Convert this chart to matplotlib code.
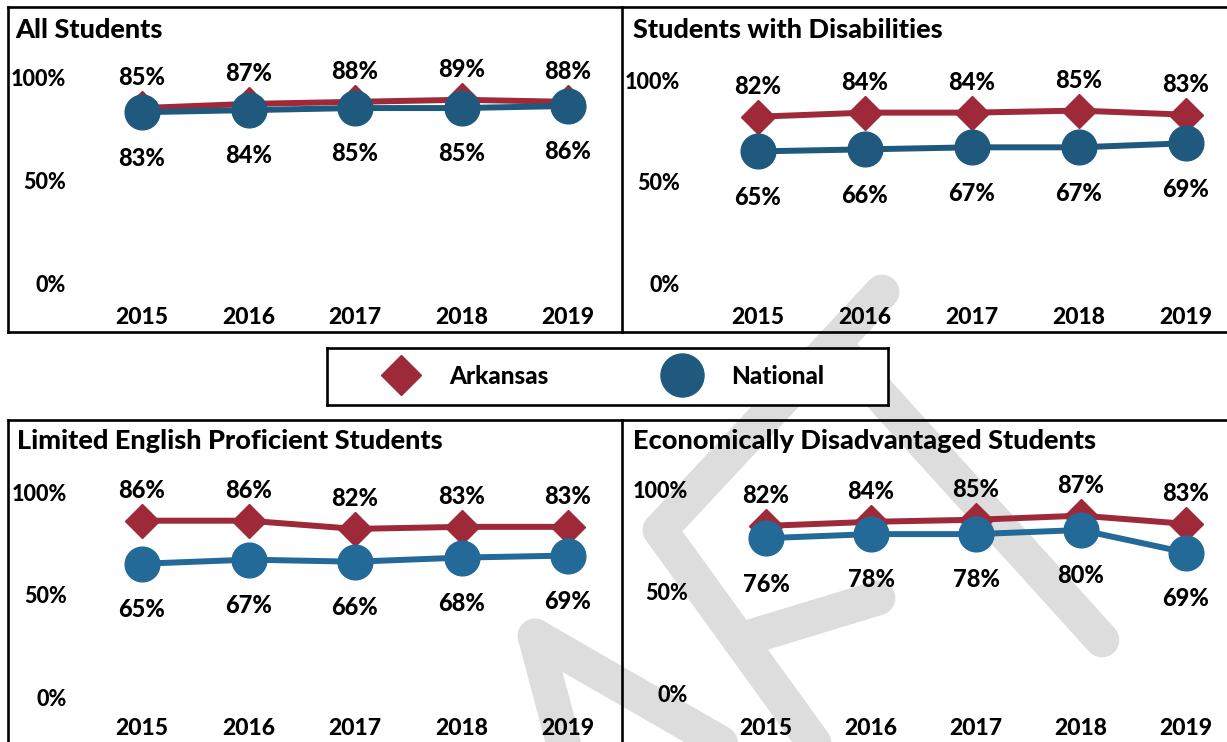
import matplotlib
matplotlib.use("Agg")
import matplotlib.pyplot as plt
from matplotlib.lines import Line2D

plt.rcParams["font.family"] = ["Lato", "DejaVu Sans"]
plt.rcParams["font.weight"] = "black"

# ---- data ----
years = [2015, 2016, 2017, 2018, 2019]
titles = ["All Students",
          "Students with Disabilities",
          "Limited English Proficient Students",
          "Economically Disadvantaged Students"]
arkansas = [
    [85, 87, 88, 89, 88],
    [82, 84, 84, 85, 83],
    [86, 86, 82, 83, 83],
    [82, 84, 85, 87, 83],
]
national = [
    [83, 84, 85, 85, 86],
    [65, 66, 67, 67, 69],
    [65, 67, 66, 68, 69],
    [76, 78, 78, 80, 69],
]
y_ticks = [0, 50, 100]
y_tick_labels = ["0%", "50%", "100%"]
series_names = ["Arkansas", "National"]

# ---- style ----
RED = "#9E2A39"
BLUE_TOP = "#1F5A7E"
BLUE_BOT = "#236A98"
W, H = 1227, 742
WEIGHT = "black"

# panel box (px): left, top, right, bottom, x of 2015, x of 2019, y of 0%, y of 100%, ylabel inset
panels = [
    (8, 7, 621, 332, 142, 568, 284, 77, 58),
    (622, 7, 1235, 332, 758, 1186, 284, 80, 58),
    (8, 420, 621, 743, 142, 568, 697, 492, 59),
    (622, 420, 1235, 743, 766, 1186, 694, 489, 66),
]
title_inset = [(7, 23), (11, 23), (9, 21), (11, 21)]


def px_to_fig(x, y):
    return x / W, 1 - y / H


fig = plt.figure(figsize=(W / 100, H / 100), dpi=100)
fig.patch.set_facecolor("white")

# light grey watermark strokes behind the panels
watermark = [
    ((660, 530), (882, 292)),
    ((660, 530), (830, 765)),
    ((835, 345), (1102, 640)),
    ((740, 640), (878, 598)),
    ((535, 636), (568, 760)),
    ((535, 636), (750, 760)),
]
for (x0, y0), (x1, y1) in watermark:
    fx0, fy0 = px_to_fig(x0, y0)
    fx1, fy1 = px_to_fig(x1, y1)
    fig.add_artist(Line2D([fx0, fx1], [fy0, fy1], transform=fig.transFigure,
                          color="#dddddd", lw=25, solid_capstyle="round", zorder=-5))

for i, (l, t, r, b, x15, x19, y0, y100, inset) in enumerate(panels):
    ax = fig.add_axes([l / W, 1 - b / H, (r - l) / W, (b - t) / H])
    ax.patch.set_alpha(0)
    dx = (x19 - x15) / (len(years) - 1)
    dy = (y0 - y100) / 100
    ax.set_xlim(years[0] + (l - x15) / dx, years[0] + (r - x15) / dx)
    ax.set_ylim((y0 - b) / dy, (y0 - t) / dy)

    blue = BLUE_TOP if i < 2 else BLUE_BOT
    ax.plot(years, arkansas[i], color=RED, lw=4.3, marker="D", ms=17.5,
            solid_capstyle="round", zorder=3)
    ax.plot(years, national[i], color=blue, lw=4.3, marker="o", ms=25,
            solid_capstyle="round", zorder=4)

    for yr, v in zip(years, arkansas[i]):
        ax.annotate(f"{v}%", (yr, v), xytext=(0, 22), textcoords="offset points",
                    ha="center", va="center", fontsize=17, fontweight=WEIGHT)
    for yr, v in zip(years, national[i]):
        ax.annotate(f"{v}%", (yr, v), xytext=(0, -33), textcoords="offset points",
                    ha="center", va="center", fontsize=17, fontweight=WEIGHT)

    ax.set_xticks(years)
    ax.set_xticklabels([str(y) for y in years], fontsize=16.5, fontweight=WEIGHT)
    ax.set_yticks(y_ticks)
    ax.set_yticklabels(y_tick_labels, fontsize=15.5, fontweight=WEIGHT)
    ax.tick_params(axis="x", length=0, pad=-18)
    ax.tick_params(axis="y", length=0, pad=-inset * 0.72)

    tx, ty = title_inset[i]
    ax.annotate(titles[i], xy=(0, 1), xycoords="axes fraction",
                xytext=(tx * 0.72, -ty * 0.72), textcoords="offset points",
                ha="left", va="center", fontsize=19.5, fontweight=WEIGHT)

    for side in ax.spines.values():
        side.set_linewidth(1.9)
        side.set_color("black")
    ax.spines["right"].set_visible(False)
    if i in (2, 3):
        ax.spines["bottom"].set_visible(False)

# legend in its own boxed axes
lax = fig.add_axes([327 / W, 1 - 405 / H, (888 - 327) / W, (405 - 348) / H])
lax.set_facecolor("white")
lax.set_xticks([])
lax.set_yticks([])
for side in lax.spines.values():
    side.set_linewidth(1.9)
handles = [
    Line2D([], [], color=RED, marker="D", ls="none", ms=20),
    Line2D([], [], color=BLUE_TOP, marker="o", ls="none", ms=31),
]
lax.legend(handles, series_names, loc="center", bbox_to_anchor=(0.487, 0.5),
           ncol=2, frameon=False, handlelength=2, handletextpad=1.0,
           columnspacing=4.5, prop={"weight": WEIGHT, "size": 17.5})

fig.savefig("out.png", dpi=100, facecolor="white")
